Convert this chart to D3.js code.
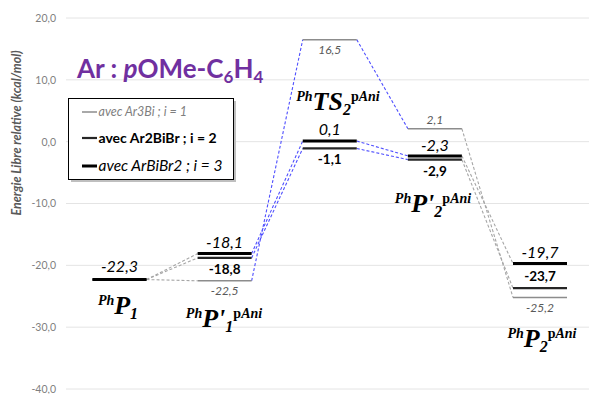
<!DOCTYPE html>
<html><head><meta charset="utf-8">
<script src="https://cdn.jsdelivr.net/npm/d3@7"></script>
<style>
html,body{margin:0;padding:0;background:#fff;}
svg{display:block;}
</style></head>
<body>
<svg id="chart" width="589" height="394"></svg>
<script>
// ---- data ----
const states = ["PhP1", "PhP'1pAni", "PhTS2pAni", "PhP'2pAni", "PhP2pAni"];
const seriesNames = ["avec Ar3Bi ; i = 1", "avec Ar2BiBr ; i = 2", "avec ArBiBr2 ; i = 3"];
const valuesI1 = [-22.3, -22.5, 16.5, 2.1, -25.2];
const valuesI2 = [-22.3, -18.8, -1.1, -2.9, -23.7];
const valuesI3 = [-22.3, -18.1, 0.1, -2.3, -19.7];
const yTicks = [20, 10, 0, -10, -20, -30, -40];
const yTitle = "Energie Libre relative (kcal/mol)";

// ---- layout / style (not data) ----
const W = 589, H = 394;
const y = d3.scaleLinear().domain([-40, 20]).range([389, 18]);
const x = d3.scalePoint().domain(states).range([119.5, 540]);
const halfW = 27;
const fmt = v => d3.format(".1f")(v).replace(".", ",").replace("\u2212", "-");

const series = [
  {vals: valuesI1, color: "#8c8c8c", width: 1.5, font: {size: 12, weight: "normal", style: "italic", fill: "#595959"}},
  {vals: valuesI2, color: "#262626", width: 2.2, font: {size: 13.5, weight: "bold", style: "normal", fill: "#000"}},
  {vals: valuesI3, color: "#000000", width: 3, font: {size: 16, weight: "normal", style: "italic", fill: "#000"}}
];
// label placement per series per state: pixel offset of baseline from level (null = hidden)
const labelOffsets = [
  [null, 14, 14, -5, 15],
  [null, 16, 16, 16, -7],
  [-8, -6, -6, -5, -5]
];
const connColors = ["#a6a6a6", "#4f4fff", "#4f4fff", "#a6a6a6"];

const svg = d3.select("#chart");
const font = "Lato, 'Open Sans', sans-serif";

// gridlines
svg.append("g").selectAll("line").data(yTicks).join("line")
  .attr("x1", 66).attr("x2", W).attr("y1", d => y(d)).attr("y2", d => y(d))
  .attr("stroke", "#e4e4e4").attr("stroke-width", 1);

// y axis labels via d3 axis
const yAxis = d3.axisLeft(y).tickValues(yTicks).tickFormat(fmt).tickSize(0).tickPadding(0);
const ga = svg.append("g").attr("transform", "translate(56,0)").call(yAxis);
ga.select(".domain").remove();
ga.selectAll("text").attr("font-family", font).attr("font-size", 10.5).attr("fill", "#7f7f7f");

// y title
svg.append("text").attr("transform", "translate(21,133) rotate(-90)")
  .attr("text-anchor", "middle").attr("font-family", font).attr("font-style", "italic")
  .attr("font-weight", "bold").attr("font-size", 12.5).attr("fill", "#595959").text(yTitle);

// connectors
series.forEach((s, si) => {
  for (let i = 0; i < states.length - 1; i++) {
    svg.append("line")
      .attr("x1", x(states[i]) + halfW).attr("y1", y(s.vals[i]))
      .attr("x2", x(states[i + 1]) - halfW).attr("y2", y(s.vals[i + 1]))
      .attr("stroke", connColors[i]).attr("stroke-width", 1.1)
      .attr("stroke-dasharray", "3,2");
  }
});

// levels
series.forEach((s, si) => {
  svg.append("g").selectAll("line").data(s.vals).join("line")
    .attr("x1", (d, i) => x(states[i]) - halfW).attr("x2", (d, i) => x(states[i]) + halfW)
    .attr("y1", d => y(d)).attr("y2", d => y(d))
    .attr("stroke", s.color).attr("stroke-width", s.width);
});

// value labels
series.forEach((s, si) => {
  const items = s.vals.map((v, i) => ({v, i, off: labelOffsets[si][i]})).filter(d => d.off !== null);
  svg.append("g").selectAll("text").data(items).join("text")
    .attr("x", d => x(states[d.i]))
    .attr("y", d => y(d.v) + d.off)
    .attr("text-anchor", "middle").attr("font-family", font)
    .attr("font-size", s.font.size).attr("font-weight", s.font.weight)
    .attr("font-style", s.font.style).attr("fill", s.font.fill)
    .text(d => fmt(d.v));
});

// state labels (rich text)
const stateLabelPos = [[118, 314], [224, 327], [338, 110], [433, 212], [542, 347]];
const stateParts = [
  [["Ph","sup"],["P","main"],["1","sub"]],
  [["Ph","sup"],["P","main"],["'","main"],["1","sub"],["p","supU"],["Ani","sup2"]],
  [["Ph","sup"],["TS","main"],["2","sub"],["p","supU"],["Ani","sup2"]],
  [["Ph","sup"],["P","main"],["'","main"],["2","sub"],["p","supU"],["Ani","sup2"]],
  [["Ph","sup"],["P","main"],["2","sub"],["p","supU"],["Ani","sup2"]]
];
const serif = "'Liberation Serif', 'Times New Roman', serif";
stateParts.forEach((parts, k) => {
  const t = svg.append("text").attr("x", stateLabelPos[k][0]).attr("y", stateLabelPos[k][1])
    .attr("text-anchor", "middle").attr("font-family", serif).attr("font-weight", "bold").attr("fill", "#000");
  let level = 0;
  parts.forEach(([txt, kind]) => {
    let target = 0, size = 26, style = "italic";
    if (kind === "sup") { target = -9; size = 14; }
    if (kind === "sup2") { target = -9; size = 14; }
    if (kind === "supU") { target = -9; size = 14; style = "normal"; }
    if (kind === "sub") { target = 5; size = 16; }
    t.append("tspan").attr("dy", target - level).attr("font-size", size).attr("font-style", style).text(txt);
    level = target;
  });
});

// title
const title = svg.append("text").attr("x", 77).attr("y", 78)
  .attr("font-family", font).attr("font-weight", "bold").attr("font-size", 26).attr("fill", "#7030a0");
title.append("tspan").text("Ar : ");
title.append("tspan").attr("font-style", "italic").text("p");
title.append("tspan").text("OMe-C");
title.append("tspan").attr("font-size", 17).attr("dy", 5).text("6");
title.append("tspan").attr("dy", -5).text("H");
title.append("tspan").attr("font-size", 17).attr("dy", 5).text("4");

// legend
const lg = svg.append("g");
lg.append("rect").attr("x", 71).attr("y", 101).attr("width", 165).attr("height", 81).attr("fill", "#bfbfbf");
lg.append("rect").attr("x", 68.5).attr("y", 98.5).attr("width", 165).attr("height", 81)
  .attr("fill", "#fff").attr("stroke", "#000").attr("stroke-width", 1);
const rowY = [112, 138, 166];
const legendSizes = [12.5, 14, 15.5];
series.forEach((s, si) => {
  lg.append("line").attr("x1", 82).attr("x2", 97).attr("y1", rowY[si]).attr("y2", rowY[si])
    .attr("stroke", s.color).attr("stroke-width", s.width);
  lg.append("text").attr("x", 98.5).attr("y", rowY[si]).attr("dy", "0.35em")
    .attr("font-family", font).attr("font-size", legendSizes[si]).attr("font-weight", s.font.weight)
    .attr("font-style", s.font.style).attr("fill", si === 0 ? "#7f7f7f" : "#000")
    .text(seriesNames[si]);
});
</script>
</body></html>
